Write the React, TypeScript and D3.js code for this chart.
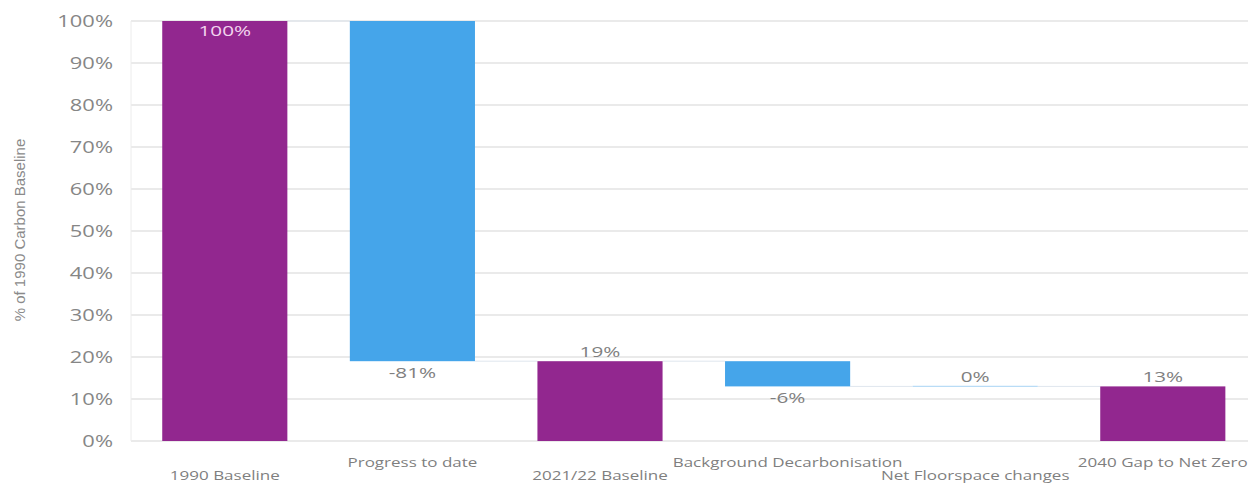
import React from "react";
import * as d3 from "d3";

const categories = [
  "1990 Baseline",
  "Progress to date",
  "2021/22 Baseline",
  "Background Decarbonisation",
  "Net Floorspace changes",
  "2040 Gap to Net Zero",
];
const values = [100, -81, 19, -6, 0, 13];
const kinds = ["total", "delta", "total", "delta", "delta", "total"];
const valueLabels = ["100%", "-81%", "19%", "-6%", "0%", "13%"];
const yTicks = [0, 10, 20, 30, 40, 50, 60, 70, 80, 90, 100];
const yTitle = "% of 1990 Carbon Baseline";

const W = 1248;
const H = 484;
const PURPLE = "#92278f";
const BLUE = "#45a5ea";

function SText(props: {
  x: number;
  y: number;
  k?: number;
  anchor?: string;
  size: number;
  fill: string;
  family?: string;
  weight?: number;
  children: React.ReactNode;
}) {
  const {
    x,
    y,
    k = 1.35,
    anchor = "middle",
    size,
    fill,
    family = "'Open Sans', sans-serif",
    weight = 400,
    children,
  } = props;
  return (
    <g transform={`translate(${x},${y}) scale(${k},1)`}>
      <text textAnchor={anchor} fontSize={size} fill={fill} fontFamily={family} fontWeight={weight}>
        {children}
      </text>
    </g>
  );
}

export default function App() {
  const left = 131;
  const step = 187.6;
  const x = d3
    .scaleBand<string>()
    .domain(categories)
    .range([left, left + step * categories.length])
    .paddingInner(0.333)
    .paddingOuter(0.1665);
  const y = d3.scaleLinear().domain([0, 100]).range([441, 21]);

  // waterfall computation
  let running = 0;
  const bars = categories.map((c, i) => {
    let start: number, end: number;
    if (kinds[i] === "total") {
      start = 0;
      end = values[i];
      running = values[i];
    } else {
      start = running;
      end = running + values[i];
      running = end;
    }
    return { c, i, start, end, kind: kinds[i], v: values[i] };
  });

  const bw = x.bandwidth();

  return (
    <svg
      width={W}
      height={H}
      style={{ position: "fixed", left: 0, top: 0, background: "#fff" }}
    >
      {/* gridlines */}
      {yTicks.map((t) => (
        <line
          key={"g" + t}
          x1={left}
          x2={W}
          y1={y(t)}
          y2={y(t)}
          stroke="#e3e3e3"
          strokeWidth={1.5}
        />
      ))}
      {/* left axis line */}
      <line x1={left} x2={left} y1={y(100)} y2={y(0)} stroke="#ececec" strokeWidth={1} />
      {/* tick labels */}
      {yTicks.map((t) => (
        <SText key={"t" + t} x={113} y={y(t) + 6} anchor="end" size={16} fill="#868686" k={1.37}>
          {t + "%"}
        </SText>
      ))}
      {/* y title */}
      <g transform={`translate(${25},${230}) rotate(-90)`}>
        <text
          textAnchor="middle"
          fontSize={15}
          fill="#8a8a8a"
          fontFamily="'Liberation Sans Narrow', 'Arial Narrow', sans-serif"
        >
          {yTitle}
        </text>
      </g>
      {/* connectors */}
      {bars.slice(0, -1).map((b, i) => {
        const level = b.end;
        const x1 = (x(b.c) as number) + bw;
        const x2 = x(categories[i + 1]) as number;
        return (
          <line
            key={"c" + i}
            x1={x1}
            x2={x2}
            y1={y(level)}
            y2={y(level)}
            stroke="#dfe6ee"
            strokeWidth={1}
          />
        );
      })}
      {/* bars */}
      {bars.map((b) => {
        const top = y(Math.max(b.start, b.end));
        const bot = y(Math.min(b.start, b.end));
        const h = bot - top;
        const xx = x(b.c) as number;
        if (h < 0.5) {
          return (
            <line
              key={"b" + b.i}
              x1={xx}
              x2={xx + bw}
              y1={top}
              y2={top}
              stroke="#b9dcf6"
              strokeWidth={1.2}
            />
          );
        }
        return (
          <rect
            key={"b" + b.i}
            x={xx}
            y={top}
            width={bw}
            height={h}
            fill={b.kind === "total" ? PURPLE : BLUE}
          />
        );
      })}
      {/* value labels */}
      {bars.map((b) => {
        const cx = (x(b.c) as number) + bw / 2;
        let ly: number;
        let fill = "#7f7f7f";
        if (b.kind === "total" && b.end >= 100) {
          ly = y(b.end) + 15;
          fill = "#f2d4ee";
        } else if (b.kind === "total") {
          ly = y(b.end) - 4;
        } else if (b.v < 0) {
          ly = y(b.end) + 17;
        } else {
          ly = y(b.end) - 4;
        }
        return (
          <SText key={"l" + b.i} x={cx} y={ly} size={15} fill={fill} k={1.38}>
            {valueLabels[b.i]}
          </SText>
        );
      })}
      {/* category labels */}
      {categories.map((c, i) => (
        <SText
          key={"x" + i}
          x={(x(c) as number) + bw / 2}
          y={i % 2 === 0 ? 480 : 467}
          size={13.5}
          fill="#7f7f7f"
          k={1.26}
        >
          {c}
        </SText>
      ))}
    </svg>
  );
}
